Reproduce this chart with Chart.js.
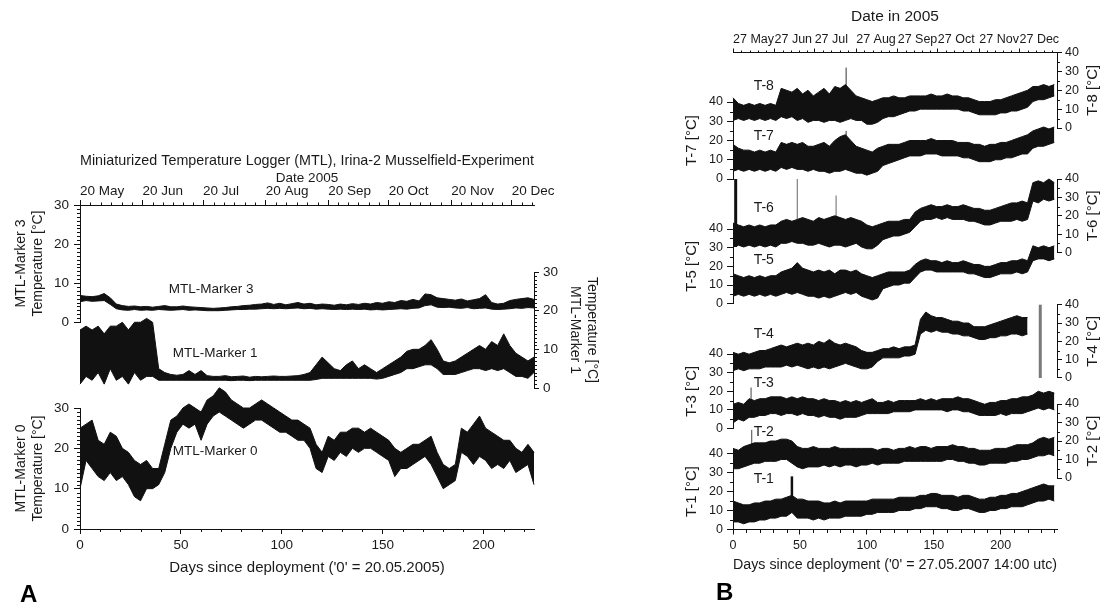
<!DOCTYPE html>
<html>
<head>
<meta charset="utf-8">
<script src="https://cdn.jsdelivr.net/npm/chart.js@4.4.1/dist/chart.umd.min.js"></script>
<style>
html,body{margin:0;padding:0;background:#fff;}
#wrap{position:relative;width:1103px;height:605px;overflow:hidden;background:#fff;}
#wrap canvas{position:absolute;left:0;top:0;}
.panel-letter{position:absolute;font:bold 24px "Liberation Sans",Arial,sans-serif;color:#000;line-height:24px;z-index:5;}
</style>
</head>
<body>
<div id="wrap">
  <div class="panel-letter" style="left:20px;top:582px">A</div>
  <div class="panel-letter" style="left:716px;top:580px">B</div>
</div>
<script>
// ---------------- DATA ----------------
const monthDays = [0, 31, 61, 92, 123, 153, 184, 214];
const monthLabelsA = ['20 May','20 Jun','20 Jul','20 Aug','20 Sep','20 Oct','20 Nov','20 Dec'];
const monthLabelsB = ['27 May','27 Jun','27 Jul','27 Aug','27 Sep','27 Oct','27 Nov','27 Dec'];
const dayTicks = [0, 50, 100, 150, 200];
const tempTicksA = [0, 10, 20, 30];
const tempTicksB = [0, 10, 20, 30, 40];

// Panel A sample days (days since deployment)
const daysA = [0,3,6,9,12,15,18,21,24,27,30,33,36,39,42,45,48,51,54,57,60,63,66,69,72,75,78,81,84,87,90,93,96,99,102,105,108,111,114,117,120,123,126,129,132,135,138,141,144,147,150,153,156,159,162,165,168,171,174,177,180,183,186,189,192,195,198,201,204,207,210,213,216,219,222,225];

// MTL-Marker 3 (low / high envelope, degC)
const m3Lo = [5.2,5.5,5.3,5.4,5.5,4.5,3.4,3.1,3.0,3.2, 3.0,3.1,3.0,3.2,3.1,3.0,3.1,3.2,3.0,3.1, 3.0,2.9,2.9,2.9,3.0,3.1,3.2,3.2,3.3,3.3, 3.4,3.5,3.4,3.5,3.4,3.5,3.6,3.4,3.5,3.3, 3.4,3.3,3.2,3.3,3.2,3.3,3.2,3.3,3.1,3.2, 3.1,3.2,3.3,3.4,3.3,3.5,3.6,4.2,4.4,3.8, 3.7,3.8,3.6,3.5,3.7,3.4,3.5,3.6,3.3,3.2, 3.3,3.4,3.6,3.5,3.7,3.6];
const m3Hi = [6.8,6.6,6.5,6.7,7.3,6.2,4.6,4.2,4.0,4.1, 3.9,4.0,3.8,4.0,4.2,3.9,3.9,4.1,3.9,3.8, 3.7,3.6,3.5,3.6,3.7,3.9,4.0,4.2,4.3,4.5, 4.6,4.9,4.5,4.8,4.4,4.7,5.0,4.6,4.8,4.4, 4.6,4.5,4.3,4.6,4.4,4.7,4.5,4.8,4.6,5.0, 4.8,5.2,5.0,5.5,5.3,5.8,5.4,7.2,7.0,6.2, 6.0,5.8,5.6,5.9,5.4,5.7,6.0,7.0,5.0,4.6, 4.8,5.5,5.8,6.0,6.2,5.8];

// MTL-Marker 1
const m1Lo = [1,3,2,4,1,5,2,3,1,4, 2,3,3,2,2,2,2,2,2,2, 2,2,2,2,2,1.9,2,2,1.9,2, 2,2,2,2,2,2,2,2,2,2.2, 2.5,2.5,2.5,2.5,2.5,2.5,2.5,2.5,2.5,2.3, 2.5,3,3.5,4,5,5,5.5,6,6,5, 3.5,3.5,3.5,4,4.5,5,5,4.5,5,4.5, 5,4,3,3,2.5,4];
const m1Hi = [15,16,15,16,14,16,16,17,15,17, 17,18,17,5,4,3.5,3.3,3.5,4.5,3.5, 4.5,3.2,3,3,3.2,2.9,3,3.1,2.8,3, 2.9,3,3.1,3,3,3.1,3.2,3.5,4,6, 8,6.5,5,4.5,6,7,5,6,5,4, 5,6,7,8,9.5,10,10,11,12.5,10, 7,6.5,7,8,9,10,11,10,12,11, 14,11,9,8,7,8];

// MTL-Marker 0
const m0Lo = [10,17,15,13,12,14,12,13,11,8, 7,10,10,11,14,20,24,26,25,26, 22,26,28,29,28,27,26,25,26,27, 27,26,25,24,24,23,22,22,20,15, 14,18,17,19,18,20,19,20,20,19, 18,17,13,15,15,16,17,18,16,13, 10,11,12,19,18,16,18,17,15,16, 15,17,14,15,16,11];
const m0Hi = [25,26,27,22,21,24,23,20,19,17, 16,17,15,15,21,27,28,30,31,30, 29,32,33,35,34,32,31,30,30,31, 32,31,30,29,28,27,27,26,25,21, 19,23,22,24,24,25,25,24,25,24, 23,22,20,19,20,21,21,22,23,19, 16,15,16,25,24,26,28,25,24,23, 22,22,20,19,21,19];

// Panel B sample days
const daysB = [0,4,8,12,16,20,24,28,32,36,40,44,48,52,56,60,64,68,72,76,80,84,88,92,96,100,104,108,112,116,120,124,128,132,136,140,144,148,152,156,160,164,168,172,176,180,184,188,192,196,200,204,208,212,216,220,224,228,232,236,240];

const t8Lo = [4,5,4,5,4,5,4,5,4,6, 5,6,4,5,3,4,4,3,4,4, 3,4,5,4,4,2,2,3,5,6, 6,7,8,9,9,10,10,10,10,10, 10,10,10,9,9,8,7,7,7,7, 8,8,9,9,10,11,14,15,15,16, 17];
const t8Hi = [16,13,12,13,12,13,12,13,12,21, 20,19,21,18,20,17,19,21,18,22, 21,23,20,17,16,15,14,15,16,16, 17,16,16,17,17,17,17,18,17,17, 18,17,17,16,16,15,14,14,14,15, 15,16,17,18,19,20,22,22,23,22, 23];
const t7Lo = [4,5,4,5,4,5,4,5,4,6, 5,6,5,5,4,5,4,4,3,4, 4,5,4,3,3,2,3,4,7,8, 9,10,11,12,12,12,13,13,13,12, 12,12,12,11,11,10,9,9,9,10, 10,11,11,12,13,13,16,17,17,18, 19];
const t7Hi = [18,16,15,15,14,15,14,15,14,19, 18,19,18,19,17,17,18,19,17,20, 22,23,20,17,16,15,14,16,17,18, 18,18,19,20,20,20,20,21,20,20, 20,20,19,19,19,18,18,17,18,18, 19,19,20,21,22,23,25,26,27,26, 27];
const t6Lo = [3,4,3,4,3,4,3,4,3,5, 5,6,5,5,4,4,5,4,3,4, 4,3,4,5,3,2,2,4,7,8, 9,9,10,11,14,17,18,18,19,18, 19,18,18,18,17,17,16,15,15,16, 17,17,17,18,17,18,28,27,29,28, 29];
const t6Hi = [16,15,14,15,14,15,14,15,15,17, 18,17,18,19,18,17,19,18,19,20, 19,18,19,18,17,15,14,15,16,17, 17,17,18,18,22,24,25,26,25,25, 26,25,25,26,25,24,24,23,23,24, 25,26,27,27,28,27,38,39,38,40, 38];
const t5Lo = [4,5,4,5,4,5,4,5,4,5, 6,5,6,5,4,4,3,4,3,4, 5,6,5,6,4,3,2,3,8,9, 10,10,11,11,14,17,18,18,17,17, 17,17,17,17,16,16,15,14,14,15, 16,16,16,17,16,17,23,24,24,23, 24];
const t5Hi = [16,15,14,15,14,15,14,15,15,17, 18,19,22,19,18,17,18,17,18,16, 18,18,17,18,16,15,14,15,16,17, 17,17,17,18,21,23,24,23,23,22, 23,22,22,23,22,21,21,20,20,21, 22,22,23,23,24,23,31,30,31,30, 31];
const t4Lo = [4,5,4,5,5,5,6,6,6,6, 7,6,7,6,5,6,5,6,5,6, 7,8,7,6,5,5,6,9,11,11, 11,11,12,12,13,24,26,25,26,25, 25,24,24,23,23,22,21,21,22,22, 23,23,24,24,23,24,null,null,null,null, null];
const t4Hi = [14,13,14,13,14,15,15,16,17,18, 17,18,19,18,19,18,20,19,21,19, 18,19,18,17,15,14,14,15,16,16, 17,16,17,17,18,32,36,34,33,33, 32,31,31,30,30,28,28,28,29,30, 31,32,33,34,33,33,null,null,null,null, null];
const t3Lo = [3,5,4,6,6,7,7,8,8,7, 8,8,7,8,7,7,6,7,6,6, 5,6,6,6,7,8,8,8,8,8, 9,9,9,9,10,10,10,10,10,10, 9,10,10,9,9,8,7,7,7,7, 8,7,8,8,8,9,10,11,10,11, 10];
const t3Hi = [13,14,13,16,15,16,16,17,17,17, 16,17,16,17,16,16,15,16,15,15, 14,15,14,15,14,15,16,14,14,15, 14,15,15,15,15,16,15,16,15,16, 16,16,17,16,16,15,14,13,14,14, 15,15,16,16,17,17,18,20,19,20, 19];
const t2Lo = [5,5,6,7,8,8,9,9,9,10, 10,8,6,5,6,6,6,7,6,7, 6,7,7,6,7,7,8,7,8,8, 8,8,9,9,9,9,9,9,9,9, 10,10,9,9,8,8,7,7,8,8, 8,8,9,9,10,10,11,12,12,13, 12];
const t2Hi = [16,15,17,18,19,19,19,20,20,21, 21,20,17,16,16,17,16,16,16,17, 16,16,16,16,16,16,16,15,16,16, 15,16,16,17,16,17,17,16,17,17, 17,18,17,17,16,16,15,15,15,16, 16,16,17,18,18,18,19,21,22,21, 22];
const t1Lo = [4,4,3,4,4,5,5,6,6,7, 7,9,6,6,6,5,6,5,6,6, 6,7,7,7,7,8,8,9,9,9, 9,10,10,10,11,11,12,12,12,11, 11,10,10,11,11,10,9,9,10,10, 11,11,12,12,12,13,14,15,15,16, 15];
const t1Hi = [15,14,13,13,14,14,15,15,16,16, 17,18,16,16,15,15,15,14,14,15, 14,15,15,15,15,15,16,16,16,16, 16,17,17,17,17,18,18,19,19,18, 18,18,17,18,18,17,16,16,17,17, 18,18,19,19,20,21,22,23,24,23, 23];

// Isolated spikes: day, peak value, base value
const t8SpikeDay = [84.5], t8SpikeTop = [32], t8SpikeBase = [20];
const t7SpikeDay = [84.5], t7SpikeTop = [25], t7SpikeBase = [20];
const t6BigSpikeDay = [2], t6BigSpikeTop = [40], t6BigSpikeBase = [3];
const t6SpikeDay = [48, 77], t6SpikeTop = [40, 31], t6SpikeBase = [18, 18];
const t3SpikeDay = [13.5], t3SpikeTop = [22], t3SpikeBase = [15];
const t2SpikeDay = [14], t2SpikeTop = [26], t2SpikeBase = [18];
const t1SpikeDay = [44], t1SpikeTop = [28], t1SpikeBase = [16];
const t4BarDay = [229.5], t4BarTop = [40], t4BarBase = [0];

// ---------------- RENDERING ----------------
const W = 1103, H = 605;
const FONT = "'Liberation Sans', Arial, Helvetica, sans-serif";
const INK = '#111111';
const TXT = '#1a1a1a';

function subdivide(majors, steps, end) {
  const out = [];
  for (let i = 0; i < majors.length - 1; i++) {
    const a = majors[i], b = majors[i + 1];
    for (let k = 1; k < steps; k++) out.push(a + (b - a) * k / steps);
  }
  const last = majors[majors.length - 1];
  const st = (last - majors[majors.length - 2]) / steps;
  for (let v = last + st; v <= end + 1e-6; v += st) out.push(v);
  return out;
}
function minorEvery(min, max, step, majorStep) {
  const out = [];
  for (let v = min; v <= max + 1e-9; v += step) {
    const r = Math.abs(v / majorStep - Math.round(v / majorStep));
    if (r > 1e-6) out.push(v);
  }
  return out;
}

const unclipFill = {
  id: 'unclipFill',
  beforeDatasetsDraw(chart) {
    chart.$savedArea = chart.chartArea;
    chart.chartArea = {left: 0, top: 0, right: chart.width, bottom: chart.height, width: chart.width, height: chart.height};
  },
  afterDatasetsDraw(chart) {
    if (chart.$savedArea) chart.chartArea = chart.$savedArea;
  }
};

const minorTicks = {
  id: 'minorTicks',
  afterDraw(chart, _a, opts) {
    const list = (opts && opts.list) || [];
    const ctx = chart.ctx, ca = chart.chartArea;
    ctx.save();
    ctx.strokeStyle = INK;
    ctx.lineWidth = 1;
    ctx.beginPath();
    list.forEach(m => {
      const s = chart.scales[m.axis];
      m.values.forEach(v => {
        const p = Math.round(s.getPixelForValue(v)) + 0.5;
        if (m.side === 'left') { const x = Math.round(ca.left); ctx.moveTo(x, p); ctx.lineTo(x - m.len, p); }
        else if (m.side === 'right') { const x = Math.round(ca.right); ctx.moveTo(x, p); ctx.lineTo(x + m.len, p); }
        else if (m.side === 'top') { const y = Math.round(ca.top); ctx.moveTo(p, y); ctx.lineTo(p, y - m.len); }
        else { const y = Math.round(ca.bottom); ctx.moveTo(p, y); ctx.lineTo(p, y + m.len); }
      });
    });
    ctx.stroke();
    ctx.restore();
  }
};

const notes = {
  id: 'notes',
  afterDraw(chart, _a, opts) {
    const items = (opts && opts.items) || [];
    const ctx = chart.ctx, xs = chart.scales.x, ys = chart.scales.y, ca = chart.chartArea;
    items.forEach(it => {
      ctx.save();
      ctx.font = it.font;
      ctx.fillStyle = TXT;
      ctx.textAlign = 'center';
      ctx.textBaseline = 'middle';
      if (it.rot) {
        ctx.translate(ca.right + it.dx, (ca.top + ca.bottom) / 2);
        ctx.rotate(-Math.PI / 2);
        ctx.fillText(it.text, 0, 0);
      } else {
        ctx.fillText(it.text, xs.getPixelForValue(it.x), ys.getPixelForValue(it.y));
      }
      ctx.restore();
    });
  }
};

function band(days, lo, hi) {
  return [
    {data: days.map((d, i) => ({x: d, y: hi[i]})), borderColor: INK, backgroundColor: INK, borderWidth: 1,
     fill: '+1', pointRadius: 0, clip: false, spanGaps: false},
    {data: days.map((d, i) => ({x: d, y: lo[i]})), borderColor: INK, backgroundColor: INK, borderWidth: 1,
     fill: false, pointRadius: 0, clip: false, spanGaps: false}
  ];
}
function spikes(days, tops, bases, color, width) {
  const pts = [];
  days.forEach((d, i) => { pts.push({x: d, y: bases[i]}, {x: d, y: tops[i]}, {x: d, y: null}); });
  return {data: pts, borderColor: color, borderWidth: width, pointRadius: 0, fill: false, clip: false, spanGaps: false};
}

function scaleOpts(s, isX, pad, minor, id) {
  const base = {type: 'linear', min: s.min, max: s.max, bounds: 'data'};
  const ax = s.axis;
  if (!ax) return Object.assign(base, {display: false});
  if (ax.pos === 'top') pad.top -= ax.size;
  else if (ax.pos === 'bottom') pad.bottom -= ax.size;
  else if (ax.pos === 'left') pad.left -= ax.size;
  else pad.right -= ax.size;
  if (ax.minor) minor.push({axis: id, side: ax.pos, values: ax.minor, len: ax.minorLen});
  const tp = ax.title && ax.title.padTop !== undefined ? ax.title.padTop : 4;
  return Object.assign(base, {
    display: true,
    position: ax.pos,
    afterBuildTicks: sc => { sc.ticks = ax.ticks.map(v => ({value: v})); },
    afterFit: sc => { if (isX) sc.height = ax.size; else sc.width = ax.size; },
    grid: {display: true, drawOnChartArea: false, drawTicks: true, tickLength: ax.tickLen,
           tickColor: INK, tickWidth: 1, color: INK},
    border: {display: true, color: INK, width: 1},
    ticks: {
      font: {family: FONT, size: ax.tickSize}, color: TXT, padding: ax.tickPad,
      maxRotation: 0, minRotation: 0, autoSkip: false, align: ax.align || 'center',
      callback: (v, i) => ax.labels ? ax.labels[i] : String(v)
    },
    title: ax.title ? {display: true, text: ax.title.text, color: TXT,
      font: {family: FONT, size: ax.title.size, lineHeight: 1.2}, padding: {top: tp, bottom: 4}} : {display: false}
  });
}

function panel(o) {
  const cv = document.createElement('canvas');
  cv.width = W; cv.height = H;
  cv.style.width = W + 'px'; cv.style.height = H + 'px';
  document.getElementById('wrap').appendChild(cv);
  const pad = {left: o.area.l, right: W - o.area.r, top: o.area.t, bottom: H - o.area.b};
  const minor = [];
  const sx = scaleOpts(o.x, true, pad, minor, 'x');
  const sy = scaleOpts(o.y, false, pad, minor, 'y');
  let title = {display: false};
  if (o.title) {
    pad.top -= o.title.size * 1.2;
    title = {display: true, text: o.title.text, fullSize: false, color: TXT, align: 'center',
             font: {family: FONT, size: o.title.size, lineHeight: 1.2, weight: 'normal'},
             padding: {top: 0, bottom: 0}};
  }
  return new Chart(cv, {
    type: 'line',
    data: {datasets: o.datasets},
    options: {
      responsive: false, animation: false, devicePixelRatio: 1, events: [],
      layout: {padding: pad, autoPadding: false},
      elements: {point: {radius: 0}, line: {tension: 0}},
      plugins: {legend: {display: false}, tooltip: {enabled: false}, title: title,
                minorTicks: {list: minor}, notes: {items: o.notes || []}},
      scales: {x: sx, y: sy}
    },
    plugins: [unclipFill, minorTicks, notes]
  });
}

// ----- axis specs -----
const minorTempA = minorEvery(0, 30, 1, 10);
const minorTempB = minorEvery(0, 40, 5, 10);
const fA = 13.5 + 'px ' + FONT;
const fB = 14 + 'px ' + FONT;

const leftA = t => ({pos: 'left', size: 71.4, ticks: tempTicksA, tickSize: 13.5, tickLen: 6, tickPad: 5,
  minor: minorTempA, minorLen: 3, title: {text: t, size: 14}});
const rightA = {pos: 'right', size: 70.4, ticks: tempTicksA, tickSize: 13.5, tickLen: 5, tickPad: 4,
  minor: minorTempA, minorLen: 3, title: {text: ['Temperature [°C]', 'MTL-Marker 1'], size: 14}};
const topA = {pos: 'top', size: 35, ticks: monthDays, labels: monthLabelsA, align: 'start', tickSize: 13.5,
  tickLen: 5, tickPad: 1, minor: subdivide(monthDays, 6, 225), minorLen: 2.5,
  title: {text: 'Date 2005', size: 13.5, padTop: 0}};
const bottomA = {pos: 'bottom', size: 52, ticks: dayTicks, tickSize: 13.5, tickLen: 5, tickPad: 3,
  minor: minorEvery(0, 225, 10, 50), minorLen: 3,
  title: {text: "Days since deployment ('0' = 20.05.2005)", size: 15}};

const leftB = t => ({pos: 'left', size: 54, ticks: tempTicksB, tickSize: 12.5, tickLen: 6, tickPad: 4,
  minor: minorTempB, minorLen: 3, title: {text: t, size: 15}});
const rightB = {pos: 'right', size: 46, ticks: tempTicksB, tickSize: 12.5, tickLen: 5, tickPad: 3,
  minor: minorTempB, minorLen: 3};
const topB = {pos: 'top', size: 48.8, ticks: monthDays, labels: monthLabelsB, align: 'start', tickSize: 12.5,
  tickLen: 4, tickPad: 1, minor: subdivide(monthDays, 5, 242), minorLen: 2.5,
  title: {text: 'Date in 2005', size: 15.5}};
const bottomB = {pos: 'bottom', size: 48.8, ticks: dayTicks, tickSize: 12.5, tickLen: 5, tickPad: 4,
  minor: minorEvery(0, 242, 10, 50), minorLen: 3,
  title: {text: "Days since deployment ('0' = 27.05.2007 14:00 utc)", size: 15.5}};
const rTitle = t => ({rot: true, dx: 36, text: t, font: '15px ' + FONT});

// ----- Panel A -----
const AL = 80, AR = 534, AMAX = 225;
panel({area: {l: AL, r: AR, t: 205, b: 322}, x: {min: 0, max: AMAX, axis: topA},
  y: {min: 0, max: 30, axis: leftA(['MTL-Marker 3', 'Temperature [°C]'])},
  title: {text: 'Miniaturized Temperature Logger (MTL), Irina-2 Musselfield-Experiment', size: 15},
  datasets: band(daysA, m3Lo, m3Hi), notes: [{x: 65, y: 8.5, text: 'MTL-Marker 3', font: fA}]});
panel({area: {l: AL, r: AR, t: 272, b: 388}, x: {min: 0, max: AMAX},
  y: {min: 0, max: 30, axis: rightA},
  datasets: band(daysA, m1Lo, m1Hi), notes: [{x: 67, y: 9, text: 'MTL-Marker 1', font: fA}]});
panel({area: {l: AL, r: AR, t: 408, b: 529}, x: {min: 0, max: AMAX, axis: bottomA},
  y: {min: 0, max: 30, axis: leftA(['MTL-Marker 0', 'Temperature [°C]'])},
  datasets: band(daysA, m0Lo, m0Hi), notes: [{x: 67, y: 19.2, text: 'MTL-Marker 0', font: fA}]});

// ----- Panel B -----
const BL = 733, BR = 1057, BMAX = 242;
panel({area: {l: BL, r: BR, t: 52.5, b: 128}, x: {min: 0, max: BMAX, axis: topB}, y: {min: 0, max: 40, axis: rightB},
  datasets: band(daysB, t8Lo, t8Hi).concat([spikes(t8SpikeDay, t8SpikeTop, t8SpikeBase, '#333', 1)]),
  notes: [{x: 23, y: 22, text: 'T-8', font: fB}, rTitle('T-8 [°C]')]});
panel({area: {l: BL, r: BR, t: 102, b: 179}, x: {min: 0, max: BMAX}, y: {min: 0, max: 40, axis: leftB('T-7 [°C]')},
  datasets: band(daysB, t7Lo, t7Hi).concat([spikes(t7SpikeDay, t7SpikeTop, t7SpikeBase, '#333', 1)]),
  notes: [{x: 23, y: 22.3, text: 'T-7', font: fB}]});
panel({area: {l: BL, r: BR, t: 179, b: 252.5}, x: {min: 0, max: BMAX}, y: {min: 0, max: 40, axis: rightB},
  datasets: band(daysB, t6Lo, t6Hi).concat([
    spikes(t6BigSpikeDay, t6BigSpikeTop, t6BigSpikeBase, INK, 3),
    spikes(t6SpikeDay, t6SpikeTop, t6SpikeBase, '#666', 1)]),
  notes: [{x: 23, y: 24, text: 'T-6', font: fB}, rTitle('T-6 [°C]')]});
panel({area: {l: BL, r: BR, t: 229, b: 303.7}, x: {min: 0, max: BMAX}, y: {min: 0, max: 40, axis: leftB('T-5 [°C]')},
  datasets: band(daysB, t5Lo, t5Hi),
  notes: [{x: 23, y: 23.4, text: 'T-5', font: fB}]});
panel({area: {l: BL, r: BR, t: 304.7, b: 378}, x: {min: 0, max: BMAX}, y: {min: 0, max: 40, axis: rightB},
  datasets: band(daysB, t4Lo, t4Hi).concat([spikes(t4BarDay, t4BarTop, t4BarBase, '#7a7a7a', 3)]),
  notes: [{x: 23, y: 24, text: 'T-4', font: fB}, rTitle('T-4 [°C]')]});
panel({area: {l: BL, r: BR, t: 354, b: 428.5}, x: {min: 0, max: BMAX}, y: {min: 0, max: 40, axis: leftB('T-3 [°C]')},
  datasets: band(daysB, t3Lo, t3Hi).concat([spikes(t3SpikeDay, t3SpikeTop, t3SpikeBase, '#444', 1)]),
  notes: [{x: 23, y: 24.5, text: 'T-3', font: fB}]});
panel({area: {l: BL, r: BR, t: 404, b: 478}, x: {min: 0, max: BMAX}, y: {min: 0, max: 40, axis: rightB},
  datasets: band(daysB, t2Lo, t2Hi).concat([spikes(t2SpikeDay, t2SpikeTop, t2SpikeBase, '#444', 1)]),
  notes: [{x: 23, y: 25, text: 'T-2', font: fB}, rTitle('T-2 [°C]')]});
panel({area: {l: BL, r: BR, t: 453.6, b: 529.5}, x: {min: 0, max: BMAX, axis: bottomB}, y: {min: 0, max: 40, axis: leftB('T-1 [°C]')},
  datasets: band(daysB, t1Lo, t1Hi).concat([spikes(t1SpikeDay, t1SpikeTop, t1SpikeBase, INK, 2.5)]),
  notes: [{x: 23, y: 26.5, text: 'T-1', font: fB}]});
</script>
</body>
</html>
